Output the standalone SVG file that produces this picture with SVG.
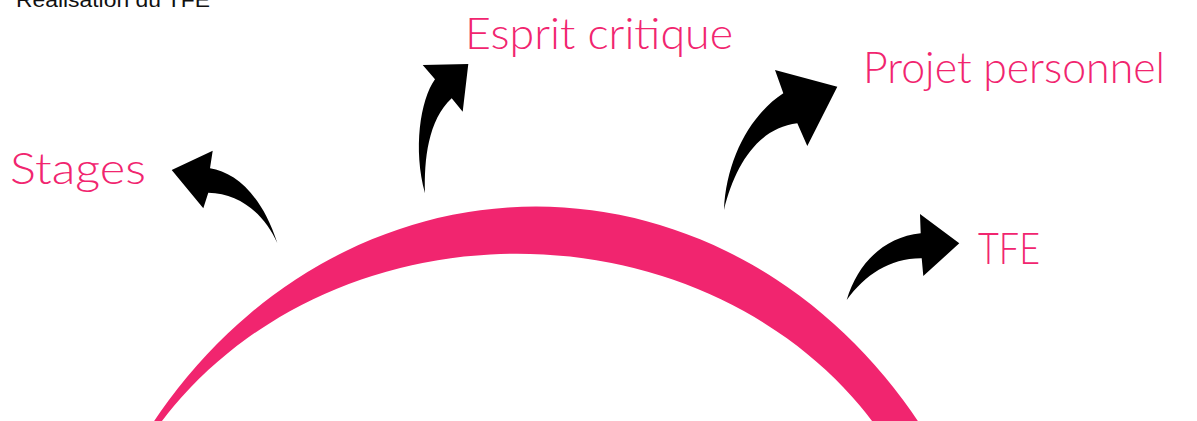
<svg xmlns="http://www.w3.org/2000/svg" width="1197" height="421" viewBox="0 0 1197 421">
<style>
.lbl{font-family:Lato,"Liberation Sans",sans-serif;font-weight:300;font-size:43px;fill:#F1256F}
.arr{fill:#000}
</style>
<rect width="1197" height="421" fill="#fff"/>
<g id="title"><text x="16" y="7" font-family="Liberation Sans,sans-serif" font-size="20" fill="#111" textLength="194" lengthAdjust="spacingAndGlyphs">Réalisation du TFE</text></g>
<g id="arc"><path d="M151.5,425 A478,538 0 0 1 920.5,425 L875,425 A426,374 0 0 0 159,425 Z" fill="#F1256F"/></g>
<g id="connectors">
<path class="arr" d="M171.7,170 L212.7,150.7 L210,168.3 C235,172 262,195 277.3,243 C265,215 240,193 208.3,192.7 L203.3,208.3 Z"/>
<path class="arr" d="M468.3,64 L422.7,65 L435,79.3 C420,100 413,150 425,193.3 C424,160 428,120 451.7,98.3 L462.7,111.7 Z"/>
<path class="arr" d="M837.3,86.7 L775,70 L783.3,93.3 C750,115 726,160 724,210 C735,165 758,128 797.3,123.3 L807.3,146 Z"/>
<path class="arr" d="M959.3,243.3 L920,214 L920.7,233.3 C885,237 858,262 846.7,300 C865,275 890,258 921.7,258.3 L923.3,276 Z"/>
</g>
<g id="stages"><text class="lbl" x="10" y="184" textLength="136" lengthAdjust="spacingAndGlyphs">Stages</text></g>
<g id="esprit"><text class="lbl" x="465" y="49" textLength="268" lengthAdjust="spacingAndGlyphs">Esprit critique</text></g>
<g id="projet"><text class="lbl" x="863" y="83" textLength="302" lengthAdjust="spacingAndGlyphs">Projet personnel</text></g>
<g id="tfe"><text class="lbl" x="978" y="264" textLength="62" lengthAdjust="spacingAndGlyphs">TFE</text></g>
</svg>
